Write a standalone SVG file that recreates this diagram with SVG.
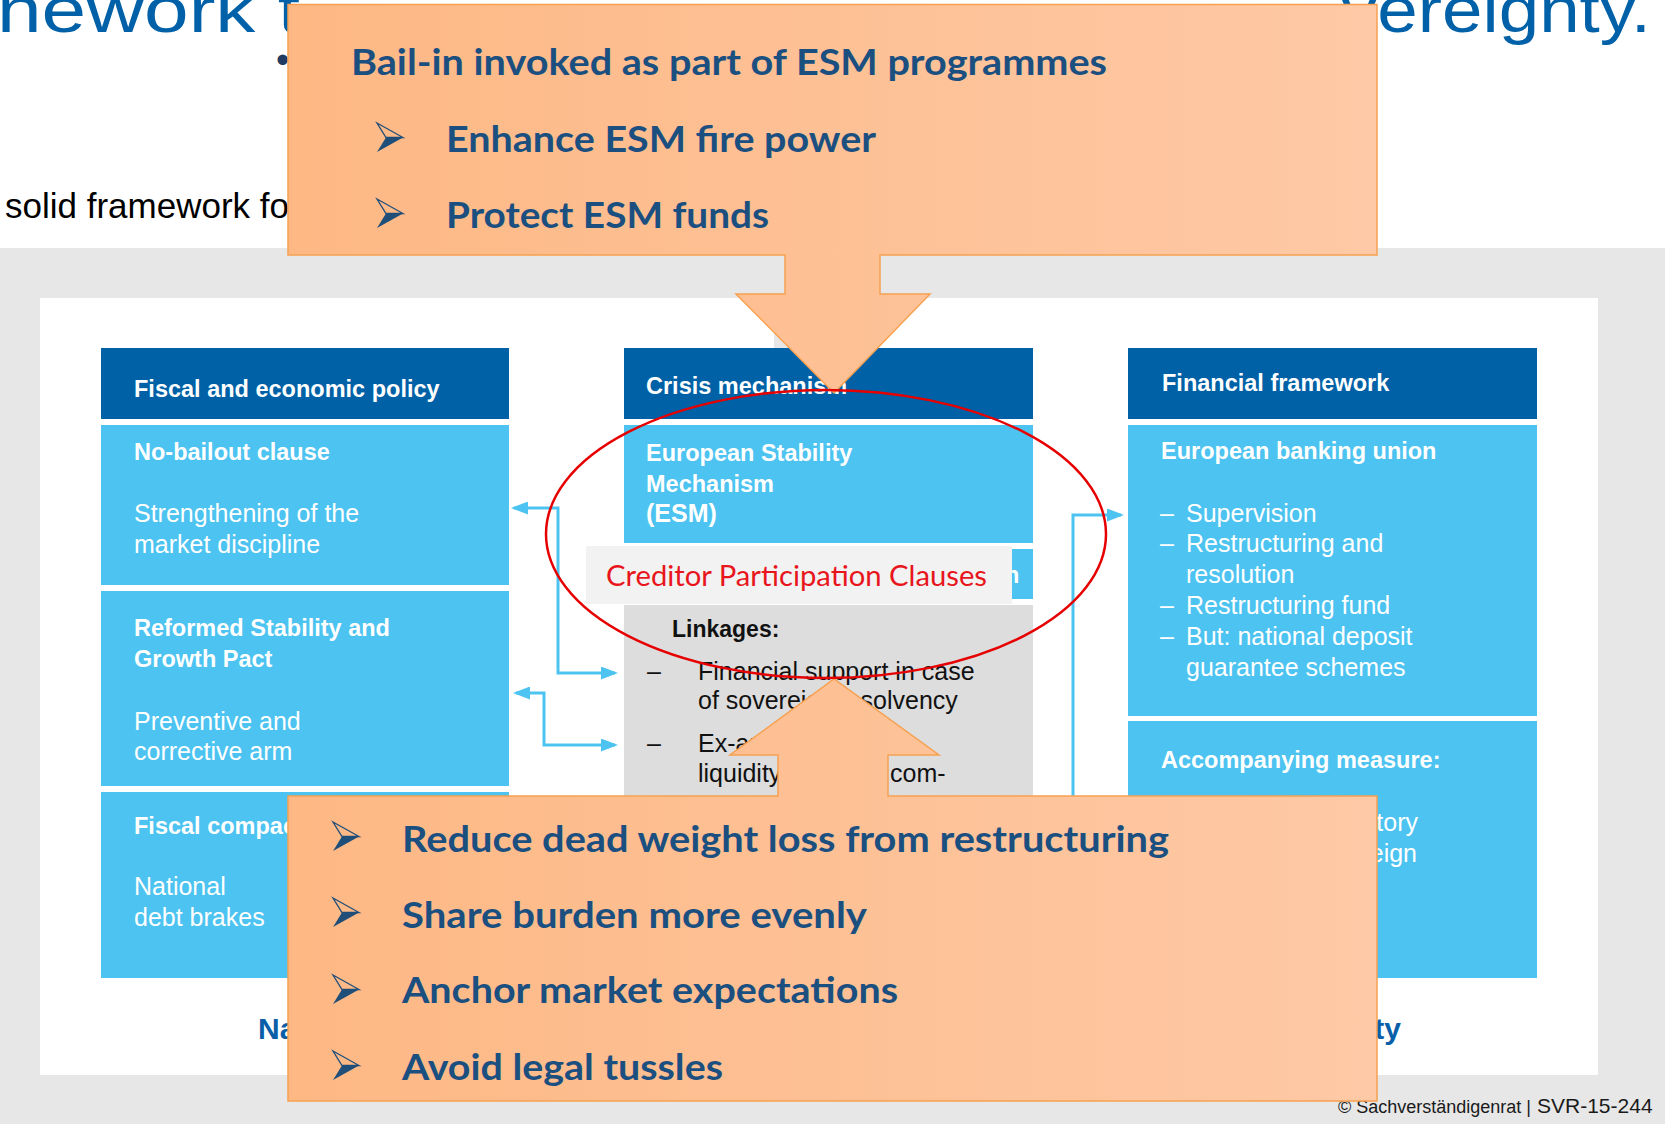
<svg xmlns="http://www.w3.org/2000/svg" width="1665" height="1124" viewBox="0 0 1665 1124">
  <defs>
    <style>
      .hd{font-family:"Liberation Sans",Arial,sans-serif;font-weight:bold;font-size:23.5px;fill:#ffffff}
      .bt{font-family:"Liberation Sans",Arial,sans-serif;font-size:25px;fill:#ffffff}
      .lk{font-family:"Liberation Sans",Arial,sans-serif;font-size:25px;fill:#111111}
      .co{font-family:Lato,"Liberation Sans",sans-serif;font-weight:bold;font-size:37px;fill:#1b4f80}
      .ttl{font-family:"Liberation Sans",Arial,sans-serif;font-size:64px;fill:#0061a8}
      .lbl{font-family:"Liberation Sans",Arial,sans-serif;font-weight:bold;font-size:30px;fill:#0a5fa8}
      .dark{fill:#0061a6}
      .light{fill:#4cc3f0}
      .conn{fill:none;stroke:#4cc3f0;stroke-width:3}
      .callout{fill:url(#peach);stroke:#f7a150;stroke-width:1.5}
    </style>
    <linearGradient id="peach" x1="0" y1="0" x2="1" y2="0">
      <stop offset="0" stop-color="#fdb884"/>
      <stop offset="1" stop-color="#fec9a6"/>
    </linearGradient>
    <marker id="ah" viewBox="0 0 17 13" refX="14" refY="6.5" markerWidth="17" markerHeight="13" markerUnits="userSpaceOnUse" orient="auto-start-reverse">
      <path d="M0,0 L17,6.5 L0,13 Z" fill="#4cc3f0"/>
    </marker>
    <g id="chev">
      <path d="M0,0 L26,14.5 L9,14.5 Z" fill="none" stroke="#1f4e79" stroke-width="1.3" stroke-linejoin="miter"/>
      <path d="M9,14.5 L26,14.5 L0,29 Z" fill="#1f4e79"/>
    </g>
  </defs>

  <!-- page background and heading area -->
  <rect x="0" y="0" width="1665" height="1124" fill="#ffffff"/>
  <text class="ttl" x="-3" y="32" textLength="303" lengthAdjust="spacingAndGlyphs">nework t</text>
  <text class="ttl" x="1341" y="32" textLength="310" lengthAdjust="spacingAndGlyphs">vereignty.</text>
  <text x="276" y="73" font-family="Liberation Sans, Arial, sans-serif" font-size="38" fill="#1f3b64">•</text>
  <text x="5" y="218" font-family="Liberation Sans, Arial, sans-serif" font-size="35" fill="#000000">solid framework fo</text>

  <rect x="0" y="248" width="1665" height="876" fill="#e7e7e7"/>
  <rect x="40" y="298" width="1558" height="777" fill="#ffffff"/>
  <rect x="774" y="298" width="96" height="50" fill="#e7e7e7"/>

  <!-- column: fiscal and economic policy -->
  <g id="fiscal">
    <rect class="dark" x="101" y="348" width="408" height="71"/>
    <text class="hd" x="134" y="397">Fiscal and economic policy</text>
    <rect class="light" x="101" y="425" width="408" height="160"/>
    <text class="hd" x="134" y="460">No-bailout clause</text>
    <text class="bt" x="134" y="522">Strengthening of the</text>
    <text class="bt" x="134" y="553">market discipline</text>
    <rect class="light" x="101" y="591" width="408" height="195"/>
    <text class="hd" x="134" y="636">Reformed Stability and</text>
    <text class="hd" x="134" y="667">Growth Pact</text>
    <text class="bt" x="134" y="730">Preventive and</text>
    <text class="bt" x="134" y="760">corrective arm</text>
    <rect class="light" x="101" y="792" width="408" height="186"/>
    <text class="hd" x="134" y="834">Fiscal compact</text>
    <text class="bt" x="134" y="895">National</text>
    <text class="bt" x="134" y="926">debt brakes</text>
  </g>

  <!-- column: crisis mechanism -->
  <g id="crisis">
    <rect class="dark" x="624" y="348" width="409" height="71"/>
    <text class="hd" x="646" y="394">Crisis mechanism</text>
    <rect class="light" x="624" y="425" width="409" height="118"/>
    <text class="hd" x="646" y="461">European Stability</text>
    <text class="hd" x="646" y="492">Mechanism</text>
    <text class="bt" x="646" y="522" font-weight="bold" font-size="23.5">(ESM)</text>
    <rect class="light" x="624" y="549" width="409" height="50"/>
    <text class="hd" x="1005" y="583">n</text>
    <rect x="624" y="605" width="409" height="195" fill="#dddddd"/>
    <text x="672" y="637" font-family="Liberation Sans, Arial, sans-serif" font-weight="bold" font-size="23" fill="#111111">Linkages:</text>
    <text class="lk" x="647" y="680">–</text>
    <text class="lk" x="698" y="680">Financial support in case</text>
    <text class="lk" x="698" y="709">of sovereign insolvency</text>
    <text class="lk" x="647" y="752">–</text>
    <text class="lk" x="698" y="752">Ex-ante</text>
    <text class="lk" x="698" y="782">liquidity</text>
    <text class="lk" x="890" y="782">com-</text>
  </g>

  <g id="creditor">
    <rect x="586" y="546" width="426" height="58" fill="#f2f2f2"/>
    <text x="606" y="586" font-family="Lato, Liberation Sans, sans-serif" font-size="28" fill="#e8161c" textLength="381" lengthAdjust="spacingAndGlyphs">Creditor Participation Clauses</text>
  </g>

  <!-- column: financial framework -->
  <g id="financial">
    <rect class="dark" x="1128" y="348" width="409" height="71"/>
    <text class="hd" x="1162" y="391">Financial framework</text>
    <rect class="light" x="1128" y="425" width="409" height="291"/>
    <text class="hd" x="1161" y="459">European banking union</text>
    <text class="bt" x="1160" y="522">–</text>
    <text class="bt" x="1186" y="522">Supervision</text>
    <text class="bt" x="1160" y="552">–</text>
    <text class="bt" x="1186" y="552">Restructuring and</text>
    <text class="bt" x="1186" y="583">resolution</text>
    <text class="bt" x="1160" y="614">–</text>
    <text class="bt" x="1186" y="614">Restructuring fund</text>
    <text class="bt" x="1160" y="645">–</text>
    <text class="bt" x="1186" y="645">But: national deposit</text>
    <text class="bt" x="1186" y="676">guarantee schemes</text>
    <rect class="light" x="1128" y="721" width="409" height="257"/>
    <text class="hd" x="1161" y="768">Accompanying measure:</text>
    <text class="bt" x="1418" y="831" text-anchor="end">tory</text>
    <text class="bt" x="1417" y="862" text-anchor="end">eign</text>
  </g>

  <!-- connectors -->
  <g id="connectors">
    <path class="conn" d="M514,508 H558 V673 H615" marker-start="url(#ah)" marker-end="url(#ah)"/>
    <path class="conn" d="M516,693 H544 V745 H615" marker-start="url(#ah)" marker-end="url(#ah)"/>
    <path class="conn" d="M1073,800 V515 H1121" marker-end="url(#ah)"/>
  </g>

  <!-- row labels under the columns -->
  <text class="lbl" x="258" y="1039">Na</text>
  <text class="lbl" x="1401" y="1039" text-anchor="end">ty</text>

  <!-- source line -->
  <g id="footer" fill="#1a1a1a" font-family="Liberation Sans, Arial, sans-serif">
    <text x="1338" y="1113" font-size="18">© Sachverständigenrat |</text>
    <text x="1537" y="1113" font-size="21">SVR-15-244</text>
  </g>

  <!-- upper callout with downward arrow -->
  <g id="callout-top">
    <path class="callout" d="M288,4.5 H1377 V255 H880 V294 H930 L834,393 L736,294 H785 V255 H288 Z"/>
    <text class="co" x="351" y="75" textLength="756" lengthAdjust="spacingAndGlyphs">Bail-in invoked as part of ESM programmes</text>
    <use href="#chev" x="377" y="123"/>
    <text class="co" x="446" y="152" textLength="430" lengthAdjust="spacingAndGlyphs">Enhance ESM fire power</text>
    <use href="#chev" x="377" y="199"/>
    <text class="co" x="446" y="228" textLength="323" lengthAdjust="spacingAndGlyphs">Protect ESM funds</text>
  </g>

  <!-- lower callout with upward arrow -->
  <g id="callout-bottom">
    <path class="callout" d="M288,796 H778 V755 H730 L834,679 L939,755 H888 V796 H1377 V1101 H288 Z"/>
    <use href="#chev" x="333" y="822"/>
    <text class="co" x="402" y="852" textLength="767" lengthAdjust="spacingAndGlyphs">Reduce dead weight loss from restructuring</text>
    <use href="#chev" x="333" y="898"/>
    <text class="co" x="402" y="928" textLength="465" lengthAdjust="spacingAndGlyphs">Share burden more evenly</text>
    <use href="#chev" x="333" y="975"/>
    <text class="co" x="402" y="1003" textLength="496" lengthAdjust="spacingAndGlyphs">Anchor market expectations</text>
    <use href="#chev" x="333" y="1051"/>
    <text class="co" x="402" y="1080" textLength="321" lengthAdjust="spacingAndGlyphs">Avoid legal tussles</text>
  </g>

  <!-- highlight ring -->
  <ellipse id="highlight" cx="826" cy="534" rx="280" ry="144" fill="none" stroke="#e60000" stroke-width="2.5"/>
</svg>
